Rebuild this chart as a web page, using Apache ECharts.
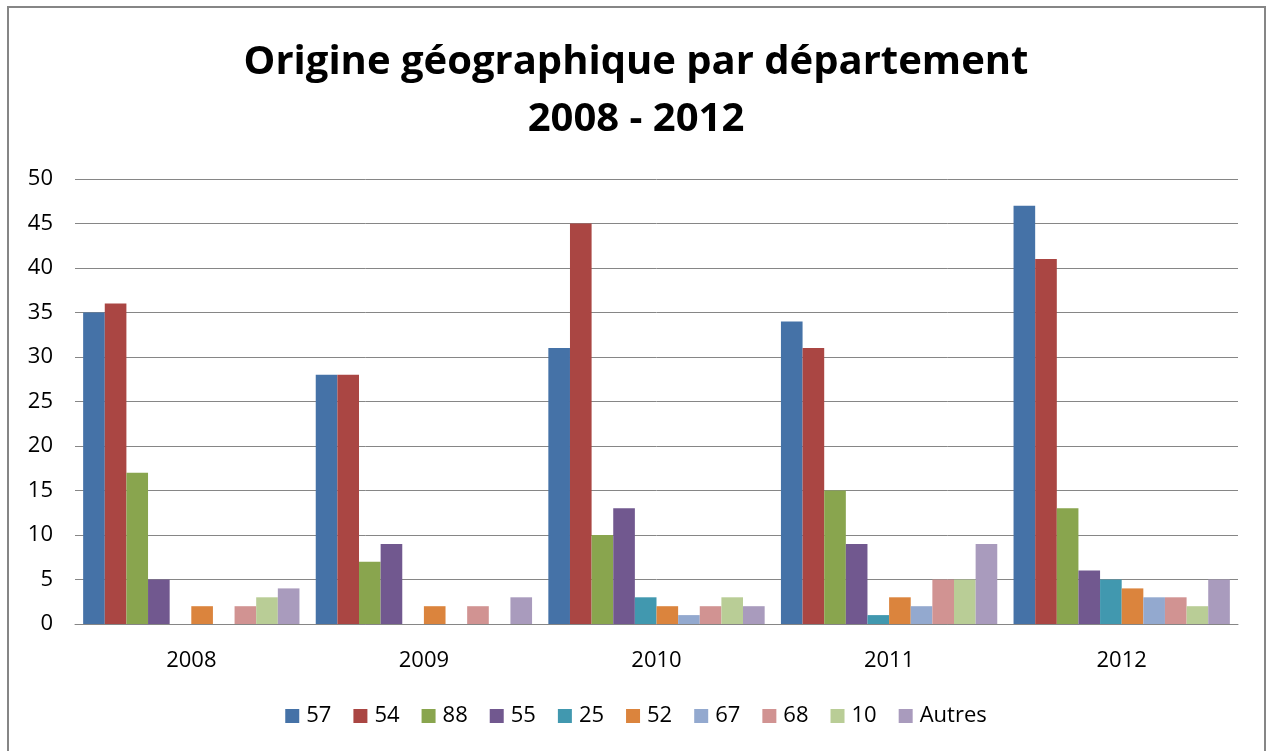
<!DOCTYPE html>
<html>
<head>
<meta charset="utf-8">
<script src="https://cdn.jsdelivr.net/npm/echarts@6/dist/echarts.min.js"></script>
<style>
html, body { margin: 0; padding: 0; background: #fff; overflow: hidden; }
#chart { width: 1272px; height: 751px; }
#cadre { position: absolute; left: 7px; top: 6px; width: 1255px; height: 760px; border: 2px solid #868686; pointer-events: none; }
</style>
</head>
<body>
<div id="chart"></div>
<div id="cadre"></div>
<script>
var years = ['2008', '2009', '2010', '2011', '2012'];
var departements = ['57', '54', '88', '55', '25', '52', '67', '68', '10', 'Autres'];
var couleurs = ['#4572A7', '#AA4643', '#89A54E', '#71588F', '#4198AF', '#DB843D', '#93A9CF', '#D19392', '#B9CD96', '#A99BBD'];

var v57 = [35, 28, 31, 34, 47];
var v54 = [36, 28, 45, 31, 41];
var v88 = [17, 7, 10, 15, 13];
var v55 = [5, 9, 13, 9, 6];
var v25 = [0, 0, 3, 1, 5];
var v52 = [2, 2, 2, 3, 4];
var v67 = [0, 0, 1, 2, 3];
var v68 = [2, 2, 2, 5, 3];
var v10 = [3, 0, 3, 5, 2];
var vAutres = [4, 3, 2, 9, 5];
var valeurs = [v57, v54, v88, v55, v25, v52, v67, v68, v10, vAutres];

var dom = document.getElementById('chart');
var myChart = echarts.init(dom);

var series = departements.map(function (d, i) {
	return {
		name: d,
		type: 'bar',
		data: valeurs[i],
		barGap: '0%',
		barCategoryGap: '7%',
		itemStyle: { color: couleurs[i] },
		emphasis: { disabled: true }
	};
});

var option = {
	animation: false,
	textStyle: { fontFamily: 'Open Sans' },
	color: couleurs,
	title: {
		text: 'Origine géographique par département\n2008 - 2012',
		left: 'center',
		top: 29,
		textStyle: {
			color: '#000',
			fontSize: 40,
			fontWeight: 'bold',
			fontFamily: 'Open Sans',
			lineHeight: 57
		}
	},
	legend: {
		data: departements,
		top: 700,
		left: 'center',
		itemWidth: 14,
		itemHeight: 14,
		itemGap: 22,
		icon: 'rect',
		textStyle: { fontSize: 22, color: '#000', fontFamily: 'Open Sans', padding: [0, 0, 0, 2] }
	},
	grid: {
		left: 75,
		right: 34,
		top: 179,
		bottom: 127
	},
	xAxis: {
		type: 'category',
		data: years,
		axisLine: { lineStyle: { color: '#868686', width: 1 } },
		axisTick: { show: false },
		axisLabel: { color: '#000', fontSize: 22, margin: 26 }
	},
	yAxis: {
		type: 'value',
		min: 0,
		max: 50,
		interval: 5,
		axisLine: { show: false },
		axisTick: { show: false },
		axisLabel: { color: '#000', fontSize: 22, margin: 22 },
		splitLine: { lineStyle: { color: '#868686', width: 1 } }
	},
	series: series
};

myChart.setOption(option, true);
</script>
</body>
</html>
